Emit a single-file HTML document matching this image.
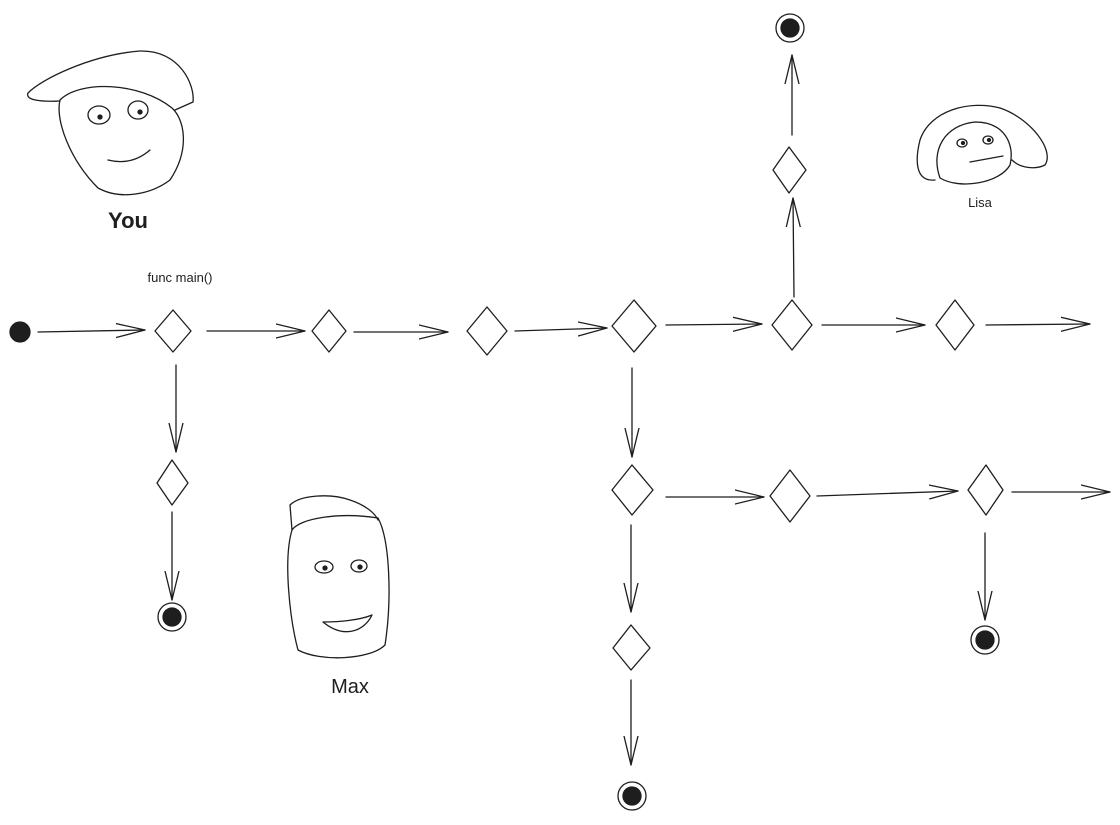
<!DOCTYPE html>
<html><head><style>body{margin:0;background:#fff}svg{display:block}</style></head><body>
<svg width="1120" height="825" viewBox="0 0 1120 825" xmlns="http://www.w3.org/2000/svg" fill="none" stroke="#1e1e1e" stroke-width="1.3" stroke-linecap="round" stroke-linejoin="round">
<defs>
<marker id="a" viewBox="0 0 30 16" refX="29" refY="8" markerWidth="30" markerHeight="16" markerUnits="userSpaceOnUse" orient="auto"><path d="M0 1 L29 8 L0 15" fill="none" stroke="#1e1e1e" stroke-width="1.3"/></marker>
</defs>
<circle cx="20" cy="332" r="10" fill="#1e1e1e"/>
<g marker-end="url(#a)">
<path d="M38 332 L145 330"/><path d="M207 331 L305 331"/><path d="M354 332 L448 332"/><path d="M515 331 L607 328"/>
<path d="M666 325 L762 324"/><path d="M822 325 L925 325"/><path d="M986 325 L1090 324"/>
<path d="M794 297 L793 198"/><path d="M792 135 L792 55"/>
<path d="M176 365 L176 452"/><path d="M172 512 L172 600"/>
<path d="M632 368 L632 457"/><path d="M666 497 L764 497"/><path d="M817 496 L958 491"/><path d="M1012 492 L1110 492"/>
<path d="M985 533 L985 620"/><path d="M631 525 L631 612"/><path d="M631 680 L631 765"/>
</g>
<g>
<path d="M173 310 L191 331 L173 352 L155 331 Z"/>
<path d="M329 310 L346 331 L329 352 L312 331 Z"/>
<path d="M487 307 L507 331 L487 355 L467 331 Z"/>
<path d="M634 300 L656 326 L634 352 L612 326 Z"/>
<path d="M792 300 L812 325 L792 350 L772 325 Z"/>
<path d="M955 300 L974 325 L955 350 L936 325 Z"/>
<path d="M789 147 L806 170 L789 193 L773 170 Z"/>
<path d="M172 460 L188 483 L172 505 L157 483 Z"/>
<path d="M632 465 L653 490 L632 515 L612 490 Z"/>
<path d="M790 470 L810 496 L790 522 L770 496 Z"/>
<path d="M986 465 L1003 490 L986 515 L968 490 Z"/>
<path d="M631 625 L650 648 L631 670 L613 648 Z"/>
</g>
<g>
<circle cx="790" cy="28" r="14"/><circle cx="790" cy="28" r="9" fill="#1e1e1e"/>
<circle cx="172" cy="617" r="14"/><circle cx="172" cy="617" r="9" fill="#1e1e1e"/>
<circle cx="985" cy="640" r="14"/><circle cx="985" cy="640" r="9" fill="#1e1e1e"/>
<circle cx="632" cy="796" r="14"/><circle cx="632" cy="796" r="9" fill="#1e1e1e"/>
</g>
<path d="M60 101 C40 102 25 100 28 93 C40 80 90 55 140 51 C180 50 195 85 193 102 L175 110"/>
<path d="M60 100 C55 120 70 160 98 188 C120 200 150 195 170 180 C190 150 185 120 172 108 C140 82 80 80 60 100 Z"/>
<ellipse cx="99" cy="115" rx="11" ry="9"/><circle cx="100" cy="117" r="2" fill="#1e1e1e"/>
<ellipse cx="138" cy="110" rx="10" ry="9"/><circle cx="140" cy="112" r="2" fill="#1e1e1e"/>
<path d="M108 160 C120 163 135 163 150 150"/>
<path d="M292 530 L290 505 C300 495 330 493 350 500 C365 505 375 513 378 520"/>
<path d="M292 530 C300 518 340 512 378 518 C390 540 392 600 385 645 C370 660 320 662 298 650 C290 620 283 560 292 530 Z"/>
<ellipse cx="324" cy="567" rx="9" ry="6"/><circle cx="325" cy="568" r="2" fill="#1e1e1e"/>
<ellipse cx="359" cy="566" rx="8" ry="6"/><circle cx="360" cy="567" r="2" fill="#1e1e1e"/>
<path d="M323 622 C340 622 360 620 372 615 C365 630 345 640 323 622 Z"/>
<path d="M935 180 C915 182 915 160 920 140 C930 110 970 100 1000 108 C1030 118 1055 150 1045 165 C1035 170 1020 168 1012 160"/>
<path d="M940 178 C930 150 945 125 975 122 C1005 122 1015 145 1010 165 C1000 183 960 190 940 178 Z"/>
<ellipse cx="962" cy="143" rx="5" ry="4"/><circle cx="963" cy="143" r="1.5" fill="#1e1e1e"/>
<ellipse cx="988" cy="140" rx="5" ry="4"/><circle cx="989" cy="140" r="1.5" fill="#1e1e1e"/>
<path d="M970 162 L1003 156"/>
<g stroke="none" fill="#1e1e1e" font-family="'Liberation Sans', sans-serif">
<text x="128" y="228" font-size="22" text-anchor="middle" font-weight="bold">You</text>
<text x="180" y="282" font-size="13" text-anchor="middle">func main()</text>
<text x="350" y="693" font-size="20" text-anchor="middle">Max</text>
<text x="980" y="207" font-size="13" text-anchor="middle">Lisa</text>
</g>
</svg>
</body></html>
